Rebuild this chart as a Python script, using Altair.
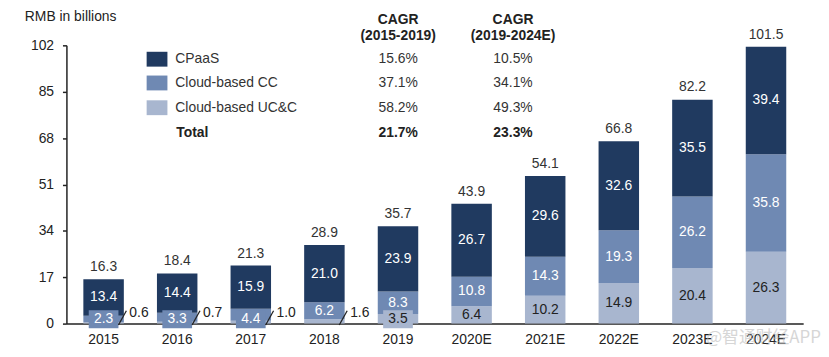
import altair as alt
import pandas as pd

# ---------------- data ----------------
years = ["2015", "2016", "2017", "2018", "2019", "2020E", "2021E", "2022E", "2023E", "2024E"]
cpaas = [13.4, 14.4, 15.9, 21.0, 23.9, 26.7, 29.6, 32.6, 35.5, 39.4]
cloud_cc = [2.3, 3.3, 4.4, 6.2, 8.3, 10.8, 14.3, 19.3, 26.2, 35.8]
cloud_ucc = [0.6, 0.7, 1.0, 1.6, 3.5, 6.4, 10.2, 14.9, 20.4, 26.3]
totals = [16.3, 18.4, 21.3, 28.9, 35.7, 43.9, 54.1, 66.8, 82.2, 101.5]

series = ["CPaaS", "Cloud-based CC", "Cloud-based UC&C"]
cagr_hdr_1 = ["CAGR", "(2015-2019)"]
cagr_hdr_2 = ["CAGR", "(2019-2024E)"]
cagr_1519 = ["15.6%", "37.1%", "58.2%"]
cagr_1924 = ["10.5%", "34.1%", "49.3%"]
total_label = "Total"
total_cagr_1519 = "21.7%"
total_cagr_1924 = "23.3%"
y_ticks = [0, 17, 34, 51, 68, 85, 102]
y_title = "RMB in billions"
watermark = "@智通财经APP"

colors = ["#203a60", "#6f89b3", "#a8b6cf"]
FONT = "Liberation Sans"
DARK = "#222222"

# ---------------- build tables ----------------
rows = []
for i, yr in enumerate(years):
    lo = 0.0
    # bottom to top: UC&C, CC, CPaaS
    for name, vals, order in [(series[2], cloud_ucc, 0), (series[1], cloud_cc, 1), (series[0], cpaas, 2)]:
        v = vals[i]
        hi = lo + v
        if name == series[2]:
            place = "out" if v < 2 else ("box" if v < 5 else "mid")
        elif name == series[1]:
            place = "box" if v < 5 else "mid"
        else:
            place = "mid"
        rows.append(dict(year=yr, series=name, order=order, value=v, lo=lo, hi=hi,
                         mid=(lo + hi) / 2, place=place, label=f"{v:.1f}",
                         tcolor=DARK if name == series[2] else "white"))
        lo = hi
df = pd.DataFrame(rows)

BOX_Y = 1.6
df["box_lo"] = BOX_Y - 3.3
df["box_hi"] = BOX_Y + 3.3
df["out_y"] = 3.8
df["sl_lo"] = -0.5
df["sl_hi"] = 4.7

tot = pd.DataFrame(dict(year=years, total=totals, label=[f"{t:.1f}" for t in totals]))

xscale = alt.Scale(domain=years, paddingInner=0.45, paddingOuter=0.23)
yscale = alt.Scale(domain=[0, 102], nice=False)
cscale = alt.Scale(domain=series, range=colors)

X = alt.X("year:N", scale=xscale,
          axis=alt.Axis(title=None, labelAngle=0, ticks=False, labelPadding=9,
                        labelFontSize=14, labelFont=FONT, labelColor=DARK,
                        domainColor=DARK, domainWidth=1.5))
Y_AX = alt.Axis(title=None, values=y_ticks, grid=False, tickSize=4, tickColor=DARK,
                labelPadding=9, labelFontSize=14, labelFont=FONT, labelColor=DARK,
                domainColor=DARK, domainWidth=1.5, tickWidth=1.5)

base = alt.Chart(df)

bars = base.mark_bar().encode(
    x=X,
    y=alt.Y("lo:Q", scale=yscale, axis=Y_AX),
    y2="hi:Q",
    color=alt.Color("series:N", scale=cscale, legend=None),
)

mid_text = base.transform_filter(alt.datum.place == "mid").mark_text(
    fontSize=14, font=FONT, baseline="middle"
).encode(x=alt.X("year:N", scale=xscale), y=alt.Y("mid:Q", scale=yscale),
         text="label:N", color=alt.Color("tcolor:N", scale=None))

boxes = base.transform_filter(alt.datum.place == "box").mark_bar(width=30).encode(
    x=alt.X("year:N", scale=xscale), y=alt.Y("box_lo:Q", scale=yscale), y2="box_hi:Q",
    color=alt.Color("series:N", scale=cscale, legend=None))

box_text = base.transform_filter(alt.datum.place == "box").mark_text(
    fontSize=14, font=FONT, baseline="middle"
).encode(x=alt.X("year:N", scale=xscale), y=alt.Y("box_lo:Q", scale=yscale),
         text="label:N", color=alt.Color("tcolor:N", scale=None)).transform_calculate(
    box_lo=str(BOX_Y))

out_text = base.transform_filter(alt.datum.place == "out").mark_text(
    fontSize=14, font=FONT, baseline="middle", align="left", dx=26, color=DARK
).encode(x=alt.X("year:N", scale=xscale), y=alt.Y("out_y:Q", scale=yscale), text="label:N")

slashes = base.transform_filter(alt.datum.place == "out").mark_rule(
    color=DARK, strokeWidth=1.3, xOffset=15, x2Offset=23
).encode(x=alt.X("year:N", scale=xscale), x2="year:N",
         y=alt.Y("sl_lo:Q", scale=yscale), y2="sl_hi:Q")

tot_text = alt.Chart(tot).mark_text(
    fontSize=14, font=FONT, baseline="middle", dy=-12, color="#333333"
).encode(x=alt.X("year:N", scale=xscale), y=alt.Y("total:Q", scale=yscale), text="label:N")

# ---------------- legend / CAGR table (pixel layout) ----------------
def txt(s, x, y, bold=False, align="left", color="#333333", size=14, font=FONT, opacity=1):
    return alt.Chart(tot).mark_text(
        text=s, fontSize=size, font=font, fontWeight="bold" if bold else "normal",
        align=align, baseline="middle", color=color, opacity=opacity
    ).encode(x=alt.value(x), y=alt.value(y)).transform_filter(alt.datum.year == years[0])

extras = [txt(y_title, -42, -29, color=DARK)]
row_y = [14, 38, 63]
COL1, COL2 = 335, 451
extras.append(txt(cagr_hdr_1[0], COL1, -26, bold=True, align="center", color=DARK))
extras.append(txt(cagr_hdr_1[1], COL1, -9, bold=True, align="center", color=DARK))
extras.append(txt(cagr_hdr_2[0], COL2, -26, bold=True, align="center", color=DARK))
extras.append(txt(cagr_hdr_2[1], COL2, -9, bold=True, align="center", color=DARK))
for k in range(3):
    extras.append(
        alt.Chart(tot).mark_rect(color=colors[k]).encode(
            x=alt.value(81), x2=alt.value(102), y=alt.value(row_y[k] - 7.5), y2=alt.value(row_y[k] + 7.5)
        ).transform_filter(alt.datum.year == years[0]))
    extras.append(txt(series[k], 110, row_y[k]))
    extras.append(txt(cagr_1519[k], COL1, row_y[k], align="center"))
    extras.append(txt(cagr_1924[k], COL2, row_y[k], align="center"))
extras.append(txt(total_label, 111, 89, bold=True, color=DARK))
extras.append(txt(total_cagr_1519, COL1, 89, bold=True, align="center", color=DARK))
extras.append(txt(total_cagr_1924, COL2, 89, bold=True, align="center", color=DARK))
extras.append(txt(watermark, 646, 296, color="#bbbbbb", size=17, font="Noto Sans CJK SC", opacity=0.6))

chart = alt.layer(bars, boxes, mid_text, box_text, out_text, slashes, tot_text, *extras).properties(
    width=744, height=281,
    autosize=alt.AutoSizeParams(type="none"),
    padding={"left": 59, "top": 36, "right": 18, "bottom": 30},
).configure_view(stroke=None)

chart.save("out.html", embed_options={"renderer": "svg", "actions": False})
